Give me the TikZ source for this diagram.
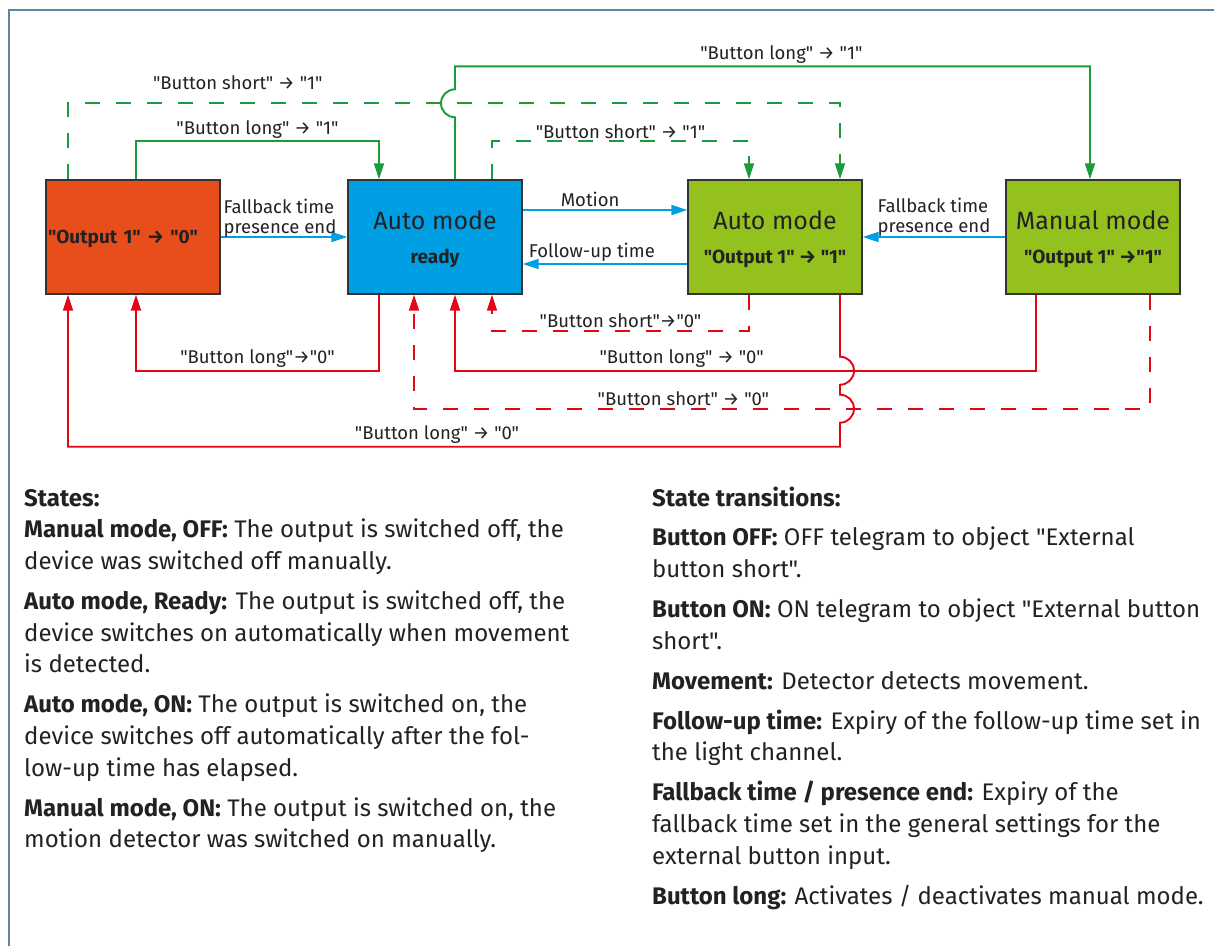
\documentclass[tikz,border=0pt]{standalone}
\usepackage{fontspec}
\setmainfont{Fira Sans}[Ligatures=TeXOff]
\usetikzlibrary{arrows.meta}

\definecolor{offred}{HTML}{E84E1B}
\definecolor{readyblue}{HTML}{009FE3}
\definecolor{onlime}{HTML}{95C11F}
\definecolor{linegreen}{HTML}{1A9B3C}
\definecolor{linered}{HTML}{E30613}
\definecolor{framegray}{HTML}{5A87A3}
\definecolor{ink}{HTML}{222222}

\newcommand\modetitle{\fontsize{25}{28}\selectfont}

\tikzset{
  modebox/.style={draw=black!80, line width=1.4pt, minimum width=174pt, minimum height=114pt,
    inner sep=2pt, align=center, text=ink, text depth=0pt, font=\fontsize{19}{22}\selectfont},
  conn/.style={line width=1.9pt, -{Triangle[length=16pt,width=10pt]}},
  grn/.style={conn, linegreen},
  grndashed/.style={grn, dash pattern=on 15pt off 16pt},
  rd/.style={conn, linered},
  rddashed/.style={rd, dash pattern=on 15pt off 16pt},
  blu/.style={conn, readyblue},
  lbl/.style={font=\fontsize{18.5}{19.5}\selectfont, text=ink, inner sep=2pt},
  notes/.style={font=\fontsize{24}{31.6}\selectfont, text=ink, inner sep=0pt, align=left, anchor=north west}
}

\begin{document}
\begin{tikzpicture}[x=1pt, y=-1pt]
\useasboundingbox (0,0) rectangle (1214,946);
\draw[framegray, line width=2pt] (9,946) -- (9,10) -- (1214,10);

% states
\node[modebox, fill=offred, text width=170pt, align=left] (off) at (133,237) {\bfseries "Output 1" → "0"};
\node[modebox, fill=readyblue] (ready) at (435,237) {{\modetitle Auto mode}\\[12pt]\bfseries ready};
\node[modebox, fill=onlime] (autoon) at (775,237) {{\modetitle Auto mode}\\[12pt]\bfseries "Output 1" → "1"};
\node[modebox, fill=onlime] (manon) at (1093,237) {{\modetitle Manual mode}\\[12pt]\bfseries "Output 1" →"1"};

% blue: automatic transitions
\draw[blu] (off.east) -- node[lbl, pos=0, anchor=south west, align=left, yshift=-3pt] {Fallback time\\presence end} (ready.west);
\draw[blu] ([yshift=27pt]ready.east) -- node[lbl, above, pos=0.41] {Motion} ([yshift=27pt]autoon.west);
\draw[blu] ([yshift=-27pt]autoon.west) -- node[lbl, above, pos=0.58] {Follow-up time} ([yshift=-27pt]ready.east);
\draw[blu] (manon.west) -- node[lbl, above, align=left, yshift=-2pt] {Fallback time\\presence end} (autoon.east);

% green: button -> "1"
\draw[grn] ([xshift=3pt]off.north) -- ++(0,-38) -| node[lbl, pos=0.25, above] {"Button long" → "1"} ([xshift=-56pt]ready.north);
\draw[grn] ([xshift=20pt]ready.north) -- ++(0,-62) arc[start angle=90, end angle=270, radius=14] -- ++(0,-23)
  -| node[lbl, pos=0.257, above] {"Button long" → "1"} ([xshift=-3pt]manon.north);
\draw[grndashed] ([xshift=-65pt]off.north) -- ++(0,-76) -| node[lbl, pos=0.11, above=11pt] {"Button short" → "1"} ([xshift=65pt]autoon.north);
\draw[grndashed] ([xshift=57pt]ready.north) -- ++(0,-38) -| node[lbl, pos=0.25, above] {"Button short" → "1"} ([xshift=-26pt]autoon.north);

% red: button -> "0"
\draw[rd] ([xshift=-56pt]ready.south) -- ++(0,76) -| node[lbl, pos=0.25, above] {"Button long"→"0"} ([xshift=3pt]off.south);
\draw[rd] ([xshift=-57pt]manon.south) -- ++(0,76) -| node[lbl, pos=0.305, above] {"Button long" → "0"} ([xshift=20pt]ready.south);
\draw[rd] ([xshift=65pt]autoon.south) -- ++(0,62) arc[start angle=-90, end angle=90, radius=14] -- ++(0,10)
  arc[start angle=-90, end angle=90, radius=14] -- ++(0,24)
  -| node[lbl, pos=0.261, above] {"Button long" → "0"} ([xshift=-65pt]off.south);
\draw[rddashed] ([xshift=-26pt]autoon.south) -- ++(0,36) -| node[lbl, pos=0.25, above] {"Button short"→"0"} ([xshift=57pt]ready.south);
\draw[rddashed] ([xshift=57pt]manon.south) -- ++(0,114) -| node[lbl, pos=0.317, above] {"Button short" → "0"} ([xshift=-21pt]ready.south);

% legend
\node[notes] (states) at (24,489) {\textbf{States:}\\
\textbf{Manual mode, OFF:} The output is switched off, the\\
device was switched off manually.\\[8.5pt]
\textbf{Auto mode, Ready:} The output is switched off, the\\
device switches on automatically when movement\\
is detected.\\[8.5pt]
\textbf{Auto mode, ON:} The output is switched on, the\\
device switches off automatically after the fol-\\
low-up time has elapsed.\\[8.5pt]
\textbf{Manual mode, ON:} The output is switched on, the\\
motion detector was switched on manually.};
\node[notes] (transitions) at (652,487) {\textbf{State transitions:}\\[7.5pt]
\textbf{Button OFF:} OFF telegram to object "External\\
button short".\\[8.5pt]
\textbf{Button ON:} ON telegram to object "External button\\
short".\\[8.5pt]
\textbf{Movement:} Detector detects movement.\\[8.5pt]
\textbf{Follow-up time:} Expiry of the follow-up time set in\\
the light channel.\\[8.5pt]
\textbf{Fallback time / presence end:} Expiry of the\\
fallback time set in the general settings for the\\
external button input.\\[8.5pt]
\textbf{Button long:} Activates / deactivates manual mode.};
\end{tikzpicture}
\end{document}
